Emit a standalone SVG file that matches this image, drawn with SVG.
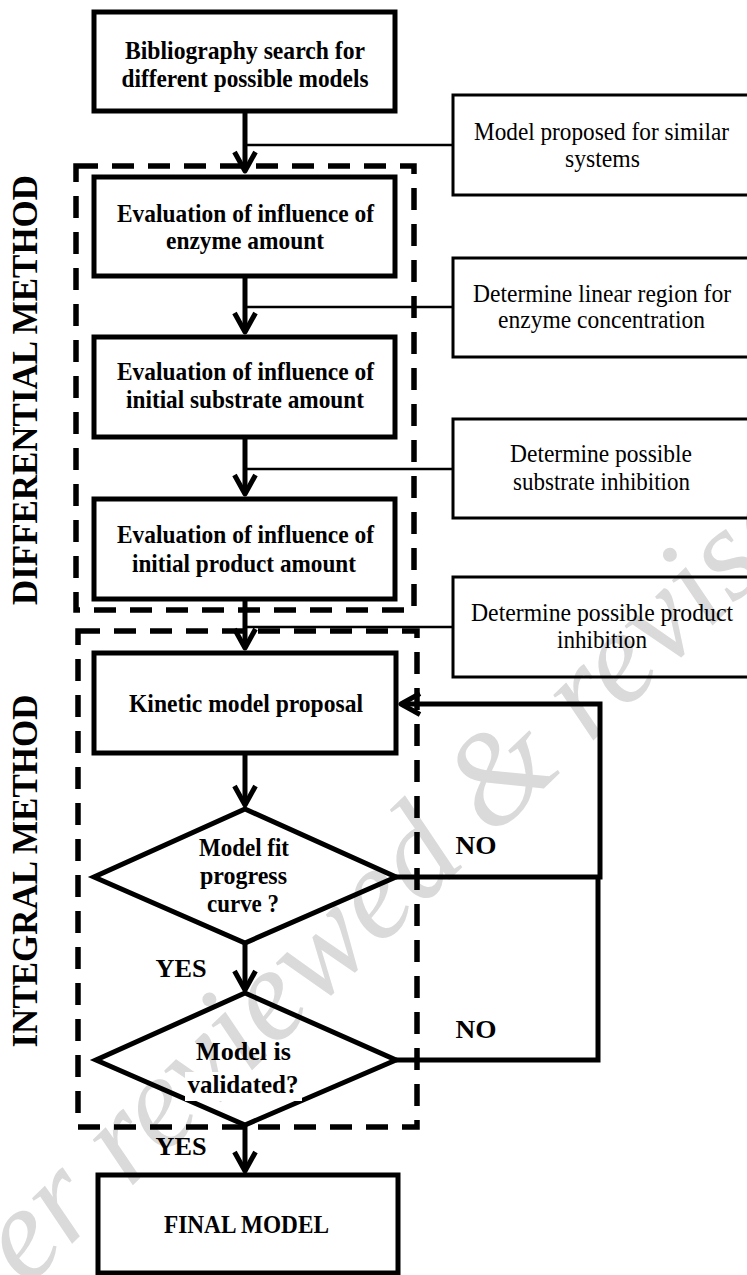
<svg xmlns="http://www.w3.org/2000/svg" width="747" height="1275" viewBox="0 0 747 1275">
<style>
  .bx { fill: none; stroke: #000; stroke-width: 5; }
  .rb { fill: none; stroke: #000; stroke-width: 3; }
  .dash { fill: none; stroke: #000; stroke-width: 5.5; stroke-dasharray: 22 14; }
  .thick { fill: none; stroke: #000; stroke-width: 5; }
  .thin { fill: none; stroke: #000; stroke-width: 2.5; }
  text { font-family: "Liberation Serif", "Times New Roman", serif; fill: #000; }
  .b { font-weight: bold; font-size: 26px; text-anchor: middle; }
  .r { font-size: 25px; text-anchor: middle; }
  .side { font-weight: bold; font-size: 35px; text-anchor: middle; }
  .wm { font-style: italic; font-size: 132px; fill: #dadada; }
</style>
<defs>
  <marker id="arr" markerUnits="userSpaceOnUse" markerWidth="40" markerHeight="40" viewBox="-30 -20 40 40" refX="0" refY="0" orient="auto" overflow="visible">
    <path d="M-19,-10.5 L0,0 L-19,10.5" fill="none" stroke="#000" stroke-width="5" stroke-linejoin="round"/>
  </marker>
</defs>
<rect x="0" y="0" width="747" height="1275" fill="#fff"/>

<g id="watermark">
  <text class="wm" transform="translate(-74,1385) rotate(-44)">Peer reviewed &amp; revised</text>
</g>

<g id="group-differential">
  <rect class="dash" x="76" y="166" width="338" height="444"/>
  <text class="side" transform="translate(37,390) rotate(-90)" textLength="430" lengthAdjust="spacingAndGlyphs">DIFFERENTIAL METHOD</text>
</g>
<g id="group-integral">
  <rect class="dash" x="78" y="631" width="339" height="496"/>
  <text class="side" transform="translate(37,871) rotate(-90)" textLength="353" lengthAdjust="spacingAndGlyphs">INTEGRAL METHOD</text>
</g>

<g id="connectors">
  <path class="thin" d="M453,145 H245"/>
  <path class="thin" d="M453,307 H245"/>
  <path class="thin" d="M453,469 H245"/>
  <path class="thin" d="M453,627 H245"/>
  <path class="thick" d="M245,111 V171" marker-end="url(#arr)"/>
  <path class="thick" d="M245,276 V332" marker-end="url(#arr)"/>
  <path class="thick" d="M245,437 V494" marker-end="url(#arr)"/>
  <path class="thick" d="M245,599 V648" marker-end="url(#arr)"/>
  <path class="thick" d="M245,753 V805" marker-end="url(#arr)"/>
  <path class="thick" d="M245,943 V990" marker-end="url(#arr)"/>
  <path class="thick" d="M245,1125 V1171" marker-end="url(#arr)"/>
  <path class="thick" d="M396,877 H600 V704 H401" marker-end="url(#arr)"/>
  <path class="thick" d="M396,1060 H598 V877"/>
  <text class="b" x="476" y="854" textLength="41" lengthAdjust="spacingAndGlyphs">NO</text>
  <text class="b" x="476" y="1038" textLength="41" lengthAdjust="spacingAndGlyphs">NO</text>
  <text class="b" x="181" y="977" textLength="51" lengthAdjust="spacingAndGlyphs">YES</text>
  <text class="b" x="181" y="1155" textLength="51" lengthAdjust="spacingAndGlyphs">YES</text>
</g>

<g id="n-bibliography">
  <rect class="bx" x="94" y="12" width="301" height="99"/>
  <text class="b" x="245" y="59" textLength="240" lengthAdjust="spacingAndGlyphs">Bibliography search for</text>
  <text class="b" x="245" y="87" textLength="247" lengthAdjust="spacingAndGlyphs">different possible models</text>
</g>
<g id="n-enzyme">
  <rect class="bx" x="94" y="177" width="301" height="99"/>
  <text class="b" x="245.5" y="222" textLength="257" lengthAdjust="spacingAndGlyphs">Evaluation of influence of</text>
  <text class="b" x="245" y="249" textLength="158" lengthAdjust="spacingAndGlyphs">enzyme amount</text>
</g>
<g id="n-substrate">
  <rect class="bx" x="94" y="337" width="301" height="100"/>
  <text class="b" x="245.5" y="380" textLength="257" lengthAdjust="spacingAndGlyphs">Evaluation of influence of</text>
  <text class="b" x="245" y="408" textLength="238" lengthAdjust="spacingAndGlyphs">initial substrate amount</text>
</g>
<g id="n-product">
  <rect class="bx" x="94" y="499" width="301" height="100"/>
  <text class="b" x="245.5" y="543" textLength="257" lengthAdjust="spacingAndGlyphs">Evaluation of influence of</text>
  <text class="b" x="244" y="572" textLength="224" lengthAdjust="spacingAndGlyphs">initial product amount</text>
</g>
<g id="n-kinetic">
  <rect class="bx" x="94" y="653" width="302" height="100"/>
  <text class="b" x="246" y="712" textLength="234" lengthAdjust="spacingAndGlyphs">Kinetic model proposal</text>
</g>
<g id="n-fit">
  <polygon class="bx" points="245,809 396,877 245,943 94,877"/>
  <text class="b" x="244" y="856" textLength="90" lengthAdjust="spacingAndGlyphs">Model fit</text>
  <text class="b" x="243.5" y="884" textLength="87" lengthAdjust="spacingAndGlyphs">progress</text>
  <text class="b" x="243" y="912" textLength="72" lengthAdjust="spacingAndGlyphs">curve ?</text>
</g>
<g id="n-validated">
  <polygon class="bx" points="245,993 396,1060 245,1125 96,1060"/>
  <rect x="185" y="1072" width="117" height="29" fill="#fff"/>
  <text class="b" x="243.5" y="1060" textLength="95" lengthAdjust="spacingAndGlyphs">Model is</text>
  <text class="b" x="243" y="1093" textLength="111" lengthAdjust="spacingAndGlyphs">validated?</text>
</g>
<g id="n-final">
  <rect class="bx" x="98" y="1175" width="300" height="98"/>
  <text class="b" x="246.5" y="1233" font-size="25" textLength="165" lengthAdjust="spacingAndGlyphs">FINAL MODEL</text>
</g>

<g id="n-similar">
  <rect class="rb" x="453" y="95" width="310" height="100"/>
  <text class="r" x="601.5" y="140" textLength="255" lengthAdjust="spacingAndGlyphs">Model proposed for similar</text>
  <text class="r" x="602.5" y="167" textLength="75" lengthAdjust="spacingAndGlyphs">systems</text>
</g>
<g id="n-linear">
  <rect class="rb" x="453" y="258" width="310" height="99"/>
  <text class="r" x="602" y="302" textLength="258" lengthAdjust="spacingAndGlyphs">Determine linear region for</text>
  <text class="r" x="601.5" y="328" textLength="207" lengthAdjust="spacingAndGlyphs">enzyme concentration</text>
</g>
<g id="n-subinhib">
  <rect class="rb" x="453" y="419" width="310" height="99"/>
  <text class="r" x="601" y="462" textLength="182" lengthAdjust="spacingAndGlyphs">Determine possible</text>
  <text class="r" x="601.5" y="490" textLength="177" lengthAdjust="spacingAndGlyphs">substrate inhibition</text>
</g>
<g id="n-prodinhib">
  <rect class="rb" x="453" y="577" width="310" height="100"/>
  <text class="r" x="602" y="621" textLength="262" lengthAdjust="spacingAndGlyphs">Determine possible product</text>
  <text class="r" x="602" y="648" textLength="90" lengthAdjust="spacingAndGlyphs">inhibition</text>
</g>
</svg>
